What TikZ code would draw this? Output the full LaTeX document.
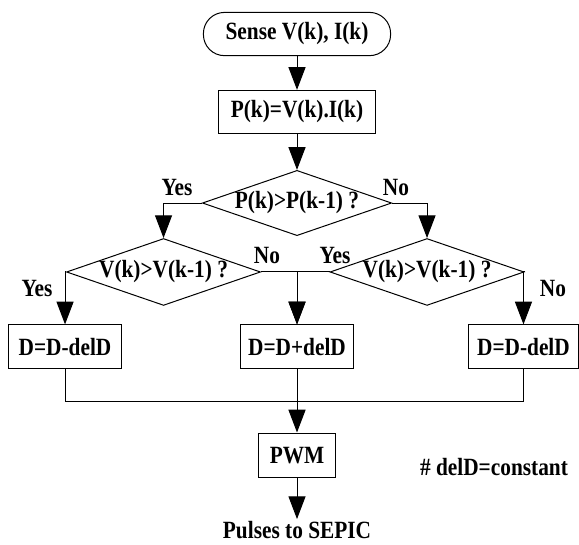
\documentclass[tikz,border=0pt]{standalone}
\usepackage{fontspec}
\setmainfont{Liberation Serif}[FakeStretch=0.86]
\usetikzlibrary{arrows.meta,shapes.geometric}
\begin{document}
\begin{tikzpicture}[>={Triangle[length=4mm,width=3mm]}, line width=0.5pt, font=\bfseries\fontsize{12.4}{14}\selectfont]
\tikzset{
	fcstart/.style={draw, rounded corners=3.7mm, minimum width=3.29cm, minimum height=0.76cm, inner sep=1pt},
	fcbox/.style={draw, minimum height=0.76cm, inner sep=1pt},
	fcdec/.style={draw, diamond, shape aspect=2.9, inner sep=0pt, minimum width=3.3cm, minimum height=1.14cm},
	fclabel/.style={inner sep=1pt}
}
\useasboundingbox (-5.22,0) rectangle (4.956,-9.561);

\node[fcstart] (sense) at (0,-0.598) {Sense V(k), I(k)};
\node[fcbox, minimum width=2.76cm] (power) at (0,-1.968) {P(k)=V(k).I(k)};
\node[fcdec] (cmpP) at (0,-3.568) {P(k)>P(k-1) ?};
\node[fcdec] (cmpVa) at (-2.346,-4.780) {V(k)>V(k-1) ?};
\node[fcdec] (cmpVb) at (2.285,-4.780) {V(k)>V(k-1) ?};

\node[fcbox, minimum width=2.0cm] (decL) at (-4.077,-6.09) {D=D-delD};
\node[fcbox, minimum width=1.99cm] (incM) at (0,-6.09) {D=D+delD};
\node[fcbox, minimum width=1.93cm] (decR) at (3.98,-6.09) {D=D-delD};
\coordinate (merge) at (0,-7.048);

\node[fcbox, minimum width=1.34cm, minimum height=0.79cm] (pwm) at (0,-8.005) {PWM};
\node[fclabel] (pulses) at (0,-9.32) {Pulses to SEPIC};
\node[fclabel] (note) at (3.462,-8.207) {\# delD=constant};

\node[fclabel] (yesP) at (-2.109,-3.304) {Yes};
\node[fclabel] (noP) at (1.74,-3.304) {No};
\node[fclabel] (noVa) at (-0.527,-4.482) {No};
\node[fclabel] (yesVb) at (0.668,-4.482) {Yes};
\node[fclabel] (yesVa) at (-4.57,-5.079) {Yes};
\node[fclabel] (noVb) at (4.499,-5.079) {No};

\draw[->] (sense) -- (power);
\draw[->] (power) -- (cmpP);
\draw[->] (cmpP.west) -| (cmpVa.north);
\draw[->] (cmpP.east) -| (cmpVb.north);
\draw[->] (cmpVa.west) -| (decL.north);
\draw[->] (cmpVa.east) -| (incM.north);
\draw[->] (cmpVb.west) -| (incM.north);
\draw[->] (cmpVb.east) -| (decR.north);
\draw (decL.south) |- (merge) -| (decR.south);
\draw[->] (incM) -- (pwm);
\draw[->] (pwm) -- (pulses);

\end{tikzpicture}
\end{document}
